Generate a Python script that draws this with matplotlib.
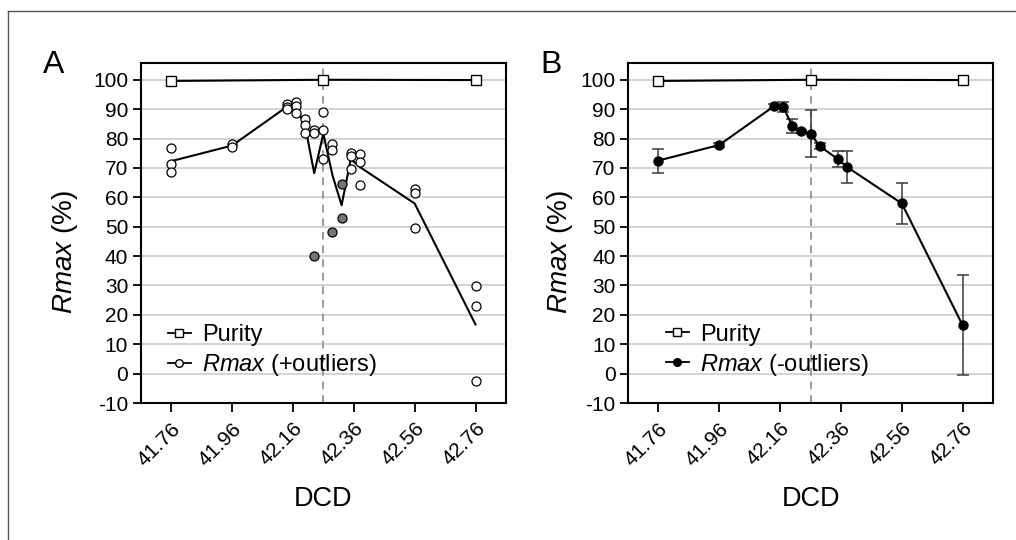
import matplotlib
matplotlib.use("Agg")
import matplotlib.pyplot as plt
from matplotlib.lines import Line2D
import numpy as np

plt.rcParams['font.family'] = ['Liberation Sans', 'DejaVu Sans']
plt.rcParams['mathtext.fontset'] = 'custom'
plt.rcParams['mathtext.rm'] = 'Liberation Sans'
plt.rcParams['mathtext.it'] = 'Liberation Sans:italic'
plt.rcParams['axes.unicode_minus'] = False

# ---- data ----
purity_x = [41.76, 42.26, 42.76]
purity_y = [99.6, 100.0, 99.9]

# Panel A: individual replicates (white) and outliers (grey)
a_pts_x = [41.76, 41.76, 41.76, 41.96, 41.96, 42.14, 42.14, 42.14,
           42.17, 42.17, 42.17, 42.20, 42.20, 42.20, 42.23, 42.23,
           42.26, 42.26, 42.26, 42.29, 42.29, 42.35, 42.35, 42.35,
           42.38, 42.38, 42.38, 42.56, 42.56, 42.56, 42.76, 42.76, 42.76]
a_pts_y = [76.8, 71.5, 68.7, 78.2, 77.1, 91.8, 90.6, 90.0,
           92.3, 91.2, 88.6, 86.7, 84.7, 81.8, 82.8, 81.8,
           89.0, 83.0, 73.0, 78.2, 76.2, 75.1, 74.0, 69.8,
           74.6, 72.0, 64.3, 62.7, 61.6, 49.5, 29.7, 22.9, -2.5]
a_out_x = [42.23, 42.29, 42.32, 42.32]
a_out_y = [40.1, 48.1, 64.5, 52.8]

# Panel A mean line (including outliers)
a_line_x = [41.76, 41.96, 42.14, 42.17, 42.20, 42.23, 42.26, 42.29,
            42.32, 42.35, 42.38, 42.56, 42.76]
a_line_y = [72.3, 77.6, 90.8, 90.7, 84.4, 68.2, 81.7, 67.5,
            57.3, 73.0, 70.3, 57.9, 16.7]

# Panel B: mean without outliers, with SD
b_x = [41.76, 41.96, 42.14, 42.17, 42.20, 42.23, 42.26, 42.29,
       42.35, 42.38, 42.56, 42.76]
b_y = [72.5, 77.8, 91.0, 90.7, 84.4, 82.4, 81.7, 77.4,
       73.0, 70.3, 57.9, 16.4]
b_err = [4.1, 0.6, 0.9, 1.8, 2.4, 0.5, 8.0, 1.0,
         2.7, 5.3, 7.1, 17.0]

xticks = [41.76, 41.96, 42.16, 42.36, 42.56, 42.76]
xticklabels = ['41.76', '41.96', '42.16', '42.36', '42.56', '42.76']
yticks = list(range(-10, 101, 10))
cutoff = 42.26

fig = plt.figure(figsize=(10.16, 5.4), dpi=100)
axA = fig.add_axes([0.1385, 0.2537, 0.3595, 0.6296])
axB = fig.add_axes([0.618, 0.2537, 0.3595, 0.6296])

def style(ax):
    ax.set_xlim(41.66, 42.86)
    ax.set_ylim(-10, 105.7)
    ax.set_yticks(yticks)
    ax.set_xticks(xticks)
    ax.set_xticklabels(xticklabels, rotation=45, ha='right',
                       rotation_mode='anchor')
    ax.yaxis.grid(True, color='#c8c8c8', lw=1.1)
    ax.set_axisbelow(True)
    for s in ax.spines.values():
        s.set_linewidth(1.5)
    ax.tick_params(axis='y', direction='out', length=6, width=1.3,
                   labelsize=15, pad=3)
    ax.tick_params(axis='x', direction='out', length=6.5, width=1.3,
                   labelsize=15, pad=5)
    ax.axvline(cutoff, color='#9a9a9a', ls=(0, (4, 3)), lw=1.4, zorder=1)
    ax.set_xlabel('DCD', fontsize=19.5)
    ax.xaxis.set_label_coords(0.5, -0.245)
    ax.set_ylabel(r'$\mathit{Rmax}$ (%)', fontsize=20)

style(axA)
style(axB)

# Panel A
axA.plot(purity_x, purity_y, '-', color='black', lw=1.5, zorder=3)
axA.plot(purity_x, purity_y, 's', mfc='white', mec='black', ms=6.5,
         mew=1, zorder=4)
axA.plot(a_line_x, a_line_y, '-', color='black', lw=1.5, zorder=3)
axA.plot(a_pts_x, a_pts_y, 'o', mfc='white', mec='black', ms=6.5,
         mew=0.9, zorder=4)
axA.plot(a_out_x, a_out_y, 'o', mfc='#747474', mec='black', ms=6.5,
         mew=0.9, zorder=4)

hA1 = Line2D([], [], color='black', lw=1.3, marker='s', mfc='white',
             mec='black', ms=5.5)
hA2 = Line2D([], [], color='black', lw=1.3, marker='o', mfc='white',
             mec='black', ms=5.5)
axA.legend([hA1, hA2], ['Purity', r'$\mathit{Rmax}$ (+outliers)'],
           loc='center left', bbox_to_anchor=(0.075, 0.152), frameon=False,
           fontsize=17, handlelength=0.95, handletextpad=0.5,
           labelspacing=0.25, borderpad=0, borderaxespad=0)

# Panel B
axB.plot(purity_x, purity_y, '-', color='black', lw=1.5, zorder=3)
axB.plot(purity_x, purity_y, 's', mfc='white', mec='black', ms=6.5,
         mew=1, zorder=4)
axB.errorbar(b_x, b_y, yerr=b_err, fmt='none', ecolor='#3a3a3a',
             elinewidth=1.1, capsize=4, capthick=1.1, zorder=3)
axB.plot(b_x, b_y, '-', color='black', lw=1.5, zorder=4)
axB.plot(b_x, b_y, 'o', color='black', ms=6.5, zorder=5)

hB1 = Line2D([], [], color='black', lw=1.3, marker='s', mfc='white',
             mec='black', ms=5.5)
hB2 = Line2D([], [], color='black', lw=1.3, marker='o', mfc='black',
             mec='black', ms=5.5)
axB.legend([hB1, hB2], ['Purity', r'$\mathit{Rmax}$ (-outliers)'],
           loc='center left', bbox_to_anchor=(0.105, 0.154), frameon=False,
           fontsize=17, handlelength=0.95, handletextpad=0.5,
           labelspacing=0.25, borderpad=0, borderaxespad=0)

axA.yaxis.set_label_coords(-0.165, 0.444)
axB.yaxis.set_label_coords(-0.145, 0.444)

fig.text(0.042, 0.865, 'A', fontsize=23)
fig.text(0.532, 0.865, 'B', fontsize=23)

# outer frame (left and top edges)
fig.add_artist(Line2D([0.008, 0.008], [0, 0.98], transform=fig.transFigure,
                      color='#555555', lw=1))
fig.add_artist(Line2D([0.008, 1.0], [0.98, 0.98], transform=fig.transFigure,
                      color='#555555', lw=1))

fig.savefig('out.png', dpi=100)
